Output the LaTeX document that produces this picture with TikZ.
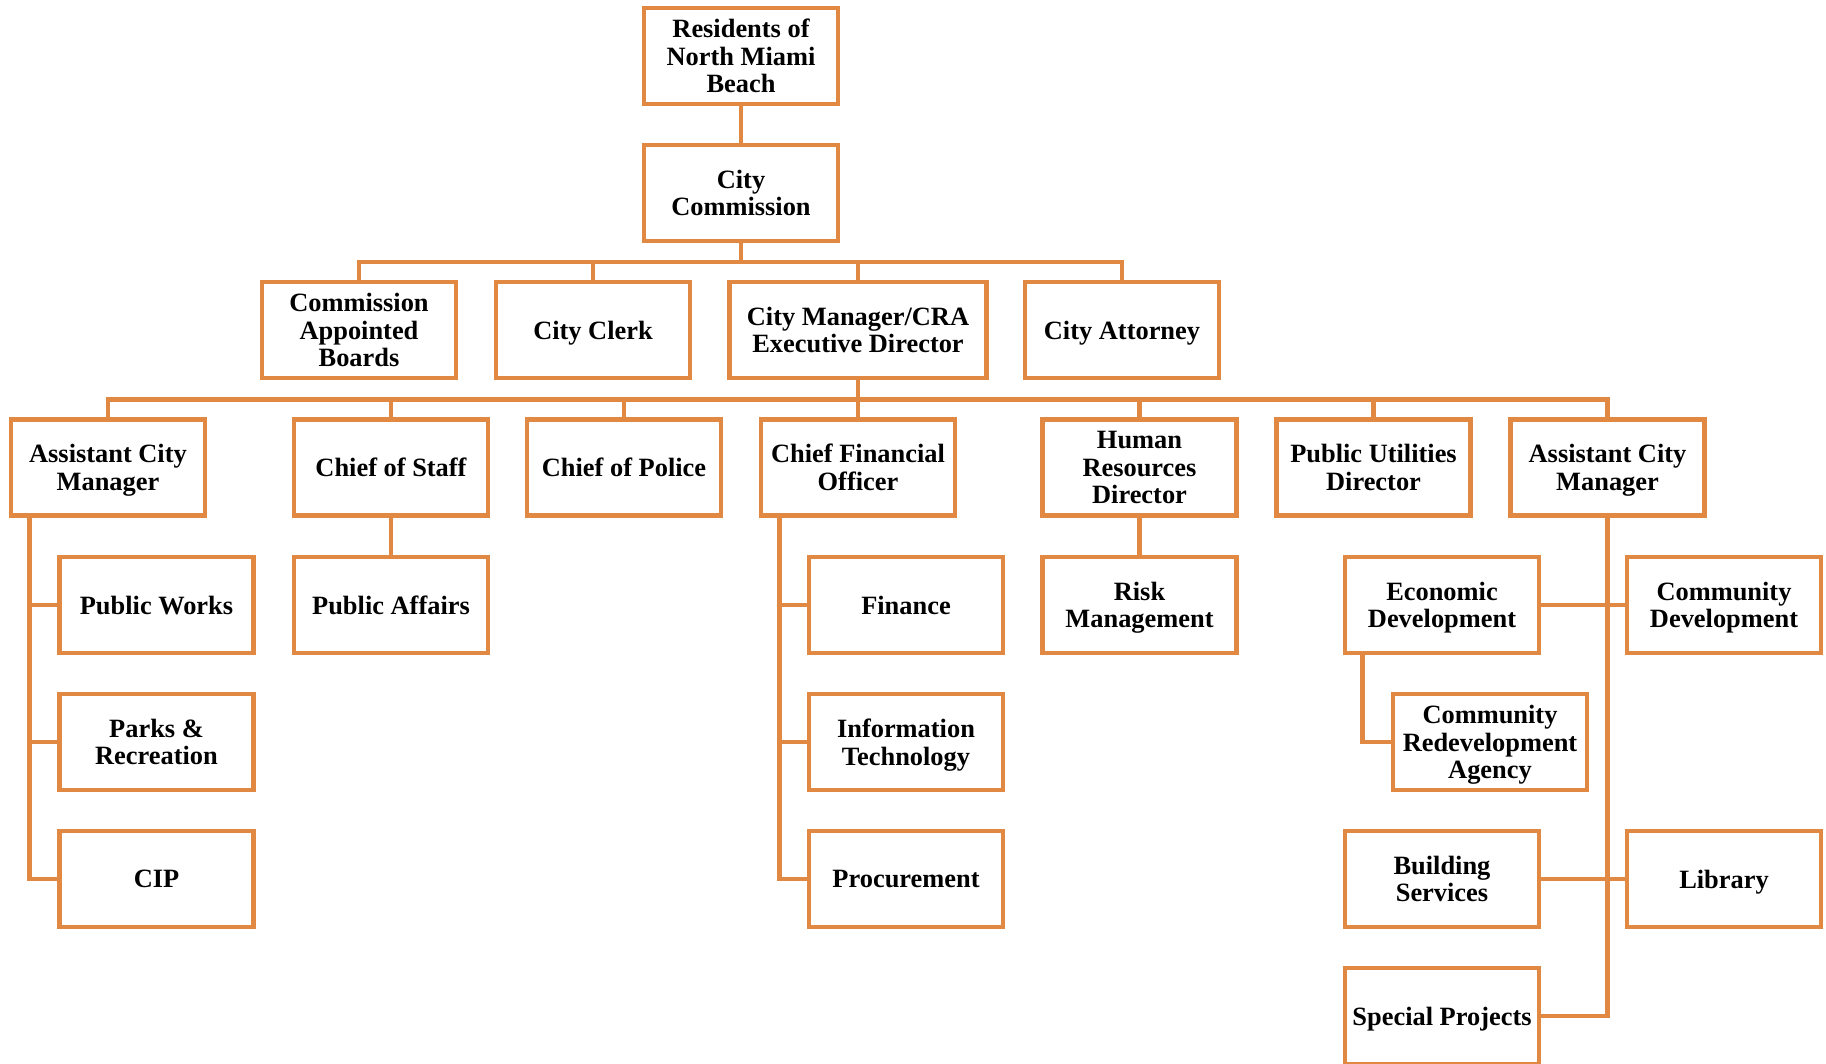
\documentclass[tikz,border=0pt]{standalone}
\usepackage{fontspec}
\setmainfont{Liberation Serif}
\definecolor{org}{RGB}{225,137,66}
\begin{document}
\begin{tikzpicture}[x=0.5pt,y=-0.5pt,
  box/.style={draw=org,line width=2.35pt,fill=white,minimum width=97pt,minimum height=48pt,
    inner sep=0pt,align=center,text depth=0pt,font=\fontsize{13.2}{13.8}\selectfont\bfseries},
  wide/.style={box,minimum width=128.5pt},
  conn/.style={draw=org,line width=2.3pt}]
\clip (0,0) rectangle (1826,1064);
\fill[white] (0,0) rectangle (1826,1064);
\coordinate (b1) at (741,262);
\coordinate (b2) at (858,399.5);
% nodes
\node[box] (res) at (741,56) {Residents of\\North Miami\\Beach};
\node[box] (com) at (741,193) {City\\Commission};
\node[box] (cab) at (359,330) {Commission\\Appointed\\Boards};
\node[box] (clerk) at (593,330) {City Clerk};
\node[wide] (cm) at (858,330) {City Manager/CRA\\Executive Director};
\node[box] (att) at (1122,330) {City Attorney};
\node[box] (acm) at (108,467.5) {Assistant City\\Manager};
\node[box] (cos) at (391,467.5) {Chief of Staff};
\node[box] (cop) at (624,467.5) {Chief of Police};
\node[box] (cfo) at (858,467.5) {Chief Financial\\Officer};
\node[box] (hr) at (1139.5,467.5) {Human\\Resources\\Director};
\node[box] (pu) at (1373.5,467.5) {Public Utilities\\Director};
\node[box] (acmb) at (1607.5,467.5) {Assistant City\\Manager};
\node[box] (pw) at (156.5,605) {Public Works};
\node[box] (pa) at (391,605) {Public Affairs};
\node[box] (fin) at (906,605) {Finance};
\node[box] (risk) at (1139.5,605) {Risk\\Management};
\node[box] (ecd) at (1442,605) {Economic\\Development};
\node[box] (cod) at (1724,605) {Community\\Development};
\node[box] (park) at (156.5,742) {Parks \&\\Recreation};
\node[box] (it) at (906,742) {Information\\Technology};
\node[box] (cra) at (1490,742) {Community\\Redevelopment\\Agency};
\node[box] (cip) at (156.5,879) {CIP};
\node[box] (proc) at (906,879) {Procurement};
\node[box] (bld) at (1442,879) {Building\\Services};
\node[box] (lib) at (1724,879) {Library};
\node[box] (sp) at (1442,1016) {Special Projects};
% connectors
\draw[conn] (res.south) -- (com.north);
\draw[conn] (com.south) -- (b1);
\draw[conn] (cab.north) |- (b1) -| (att.north);
\draw[conn] (clerk.north) -- (clerk.north |- b1);
\draw[conn] (cm.north) -- (cm.north |- b1);
\draw[conn] (cm.south) -- (b2);
\draw[conn] (acm.north) |- (b2) -| (acmb.north);
\draw[conn] (cos.north) -- (cos.north |- b2);
\draw[conn] (cop.north) -- (cop.north |- b2);
\draw[conn] (cfo.north) -- (cfo.north |- b2);
\draw[conn] (hr.north) -- (hr.north |- b2);
\draw[conn] (pu.north) -- (pu.north |- b2);
\draw[conn] (pw.west) -| ([xshift=10.5pt]acm.south west);
\draw[conn] (park.west) -| ([xshift=10.5pt]acm.south west);
\draw[conn] (cip.west) -| ([xshift=10.5pt]acm.south west);
\draw[conn] (cos.south) -- (pa.north);
\draw[conn] (fin.west) -| ([xshift=10.5pt]cfo.south west);
\draw[conn] (it.west) -| ([xshift=10.5pt]cfo.south west);
\draw[conn] (proc.west) -| ([xshift=10.5pt]cfo.south west);
\draw[conn] (hr.south) -- (risk.north);
\draw[conn] (cra.west) -| ([xshift=10pt]ecd.south west);
\draw[conn] (sp.east) -| (acmb.south);
\draw[conn] (ecd.east) -- (cod.west);
\draw[conn] (bld.east) -- (lib.west);
\end{tikzpicture}
\end{document}
